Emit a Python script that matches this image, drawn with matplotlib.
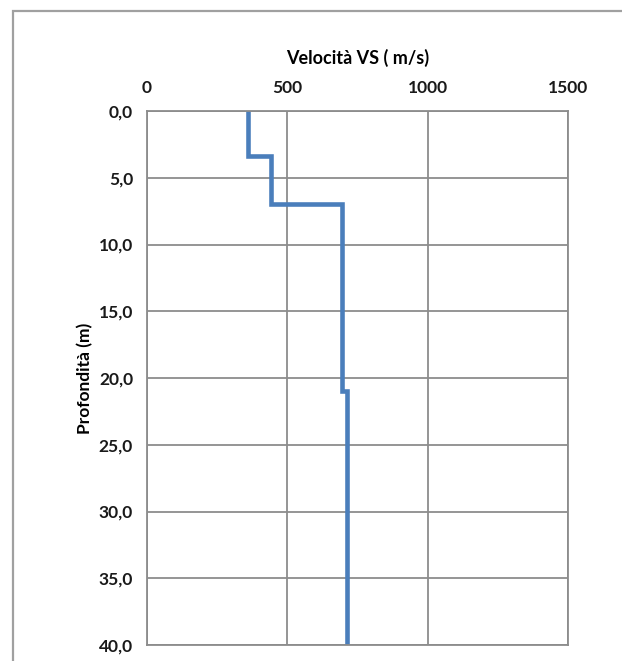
import matplotlib.pyplot as plt
from matplotlib.patches import Rectangle

# Vs profile: one velocity per layer, layer boundaries in metres
layer_top = [0.0, 3.4, 7.0, 21.0]
layer_bottom = [3.4, 7.0, 21.0, 40.0]
vs = [360, 442, 693, 713]

x_ticks = [0, 500, 1000, 1500]
y_ticks = [0, 5, 10, 15, 20, 25, 30, 35, 40]

plt.rcParams['font.family'] = ['Lato', 'DejaVu Sans']
plt.rcParams['font.weight'] = 'bold'

W, H = 622, 661
fig = plt.figure(figsize=(W / 100, H / 100), dpi=100)

# chart frame
fig.patches.append(Rectangle((12.5 / W, -0.1), 1.2, 1 - 11.5 / H + 0.1, transform=fig.transFigure,
                             fill=False, edgecolor='#a0a0a0', linewidth=1.6))

ax = fig.add_axes([147 / W, 1 - 645 / H, (568 - 147) / W, (645 - 111) / H])

# step profile built from the layer table
xs, ys = [], []
for top, bot, v in zip(layer_top, layer_bottom, vs):
    xs += [v, v]
    ys += [top, bot]
ax.plot(xs, ys, color='#4a7ebb', linewidth=3.3, solid_joinstyle='miter')

ax.set_xlim(0, 1500)
ax.set_ylim(40, 0)
ax.set_xticks(x_ticks)
ax.set_yticks(y_ticks)
ax.set_yticklabels([f"{t:.1f}".replace('.', ',') for t in y_ticks])
ax.xaxis.tick_top()
ax.xaxis.set_label_position('top')
ax.tick_params(length=0, labelsize=12.5, colors='#1a1a1a')
ax.tick_params(axis='y', pad=10)
ax.tick_params(axis='x', pad=11)
ax.grid(True, color='#8c8c8c', linewidth=1.3)
ax.set_axisbelow(True)
for s in ax.spines.values():
    s.set_color('#8c8c8c')
    s.set_linewidth(1.3)

ax.set_xlabel('Velocità VS ( m/s)', fontsize=13, fontweight='bold', labelpad=11)
ax.set_ylabel('Profondità (m)', fontsize=12.5, fontweight='bold', labelpad=4)

fig.savefig('out.png', dpi=100)
